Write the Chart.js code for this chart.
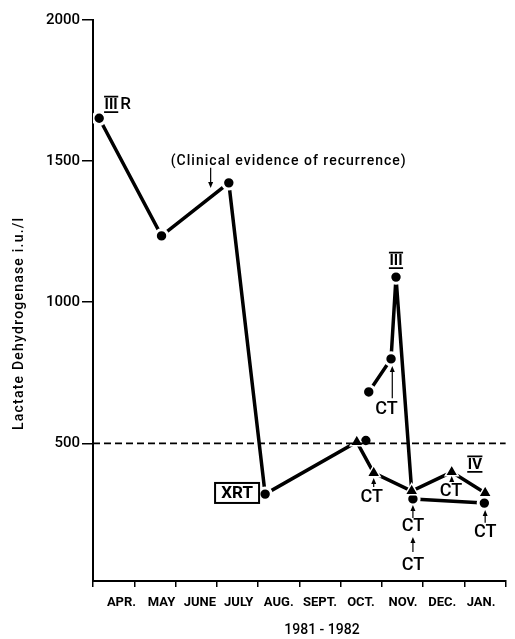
<!DOCTYPE html>
<html><head><meta charset="utf-8">
<script src="https://cdn.jsdelivr.net/npm/chart.js@4"></script>
<style>html,body{margin:0;padding:0;background:#fff}canvas{display:block}</style>
</head><body>
<canvas id="c" width="515" height="639"></canvas>
<script>
// ---- data (x = months elapsed since 1 April 1981) ----
const monthLabels = ['APR.','MAY','JUNE','JULY','AUG.','SEPT.','OCT.','NOV.','DEC.','JAN.'];
const monthLabelAt = [0.69, 1.66, 2.59, 3.53, 4.50, 5.50, 6.49, 7.51, 8.46, 9.40];
const monthTicks = [0, 1, 2, 3, 4, 5, 6, 7, 8, 9, 10];
const yTickValues = [500, 1000, 1500, 2000];
const yAxisTitle = 'Lactate Dehydrogenase i.u./l';
const xAxisTitle = '1981 - 1982';
const refLevel = 500;

const mainX = [0.15, 1.66, 3.29, 4.17, 6.39, 6.80, 7.72, 8.69, 9.50];
const mainY = [1652, 1235, 1423, 320, 505, 395, 331, 398, 324];
const mainMarkers = ['circle','circle','circle','circle','triangle','triangle','triangle','triangle','triangle'];

const octX = [6.61];
const octY = [510];

const relapseX = [6.68, 7.22, 7.34, 7.72];
const relapseY = [682, 799, 1089, 331];

const lateX = [7.75, 9.48];
const lateY = [303, 288];

// annotations, in data coordinates
const clinicalNote = {text: '(Clinical evidence of recurrence)', x: 4.73, y: 1500, arrowX: 2.85, arrowFrom: 1476, arrowTo: 1405};
const romanNotes = [ {text: 'III', x: 0.44, y: 1702, suffix: 'R', sx: 0.79}, {text: 'III', x: 7.34, y: 1149}, {text: 'IV', x: 9.25, y: 427} ];
const xrtNote = {text: 'XRT', x: 3.49, y: 324};
const ctNotes = [ // text x, text y, arrow x, arrow from, arrow to
  [7.11, 625, 7.25, 660, 774],
  [6.75, 310, 6.80, 345, 377],
  [7.75, 207, 7.75, 235, 281],
  [7.75, 72, 7.75, 115, 168],
  [8.67, 334, 8.69, 366, 384],
  [9.50, 189, 9.50, 218, 264]
];

const pts = (xs, ys) => xs.map((x, i) => ({x: x, y: ys[i]}));

function fitText(ctx, text, cx, cy, targetW) {
  ctx.letterSpacing = '0px';
  const w = ctx.measureText(text).width;
  const ls = (targetW - w) / (text.length - 1);
  ctx.letterSpacing = ls + 'px';
  ctx.textAlign = 'left';
  ctx.fillText(text, cx - targetW / 2, cy);
  ctx.letterSpacing = '0px';
}
function arrow(ctx, x, y1, y2) { // shaft from y1 to y2, head at y2
  const dir = y2 < y1 ? -1 : 1;
  ctx.beginPath(); ctx.lineWidth = 1.2; ctx.moveTo(x, y1); ctx.lineTo(x, y2 - dir * 4); ctx.stroke();
  ctx.beginPath(); ctx.moveTo(x, y2); ctx.lineTo(x - 2.5, y2 - dir * 6); ctx.lineTo(x + 2.5, y2 - dir * 6); ctx.closePath(); ctx.fill();
}

const notesPlugin = {
  id: 'notes',
  afterDraw(chart) {
    const ctx = chart.ctx, xs = chart.scales.x, ys = chart.scales.y;
    const X = v => xs.getPixelForValue(v), Y = v => ys.getPixelForValue(v);
    ctx.save();
    ctx.fillStyle = '#000'; ctx.strokeStyle = '#000'; ctx.textBaseline = 'middle';
    // month labels
    ctx.font = 'bold 13px Roboto'; ctx.textAlign = 'center';
    monthLabels.forEach((m, i) => ctx.fillText(m, X(monthLabelAt[i]), 603));
    // axis titles
    ctx.font = '500 14px Roboto';
    ctx.save(); ctx.translate(19, 324); ctx.rotate(-Math.PI / 2);
    fitText(ctx, yAxisTitle, 0, 0, 212); ctx.restore();
    ctx.font = '500 14px Roboto'; ctx.textAlign = 'center';
    ctx.fillText(xAxisTitle, 322, 630);
    // clinical note
    ctx.font = '500 14px Roboto';
    fitText(ctx, clinicalNote.text, X(clinicalNote.x), Y(clinicalNote.y), 235);
    arrow(ctx, X(clinicalNote.arrowX), Y(clinicalNote.arrowFrom), Y(clinicalNote.arrowTo));
    // roman numerals
    romanNotes.forEach(n => {
      ctx.font = 'bold 15px Roboto'; ctx.textAlign = 'center';
      const cx = X(n.x), cy = Y(n.y);
      const w = ctx.measureText(n.text).width + 1;
      ctx.fillText(n.text, cx, cy + 1);
      ctx.lineWidth = 1.6;
      ctx.beginPath(); ctx.moveTo(cx - w / 2, cy - 7.5); ctx.lineTo(cx + w / 2, cy - 7.5);
      ctx.moveTo(cx - w / 2, cy + 8); ctx.lineTo(cx + w / 2, cy + 8); ctx.stroke();
      if (n.suffix) { ctx.font = '500 17px Roboto'; ctx.fillText(n.suffix, X(n.sx), cy + 1); }
    });
    // XRT box
    ctx.font = 'bold 17px Roboto'; ctx.textAlign = 'center';
    const bx = X(xrtNote.x), by = Y(xrtNote.y);
    ctx.fillText(xrtNote.text, bx, by + 1);
    ctx.lineWidth = 2; ctx.strokeRect(bx - 22, by - 10, 44, 20);
    // CT labels
    ctNotes.forEach(c => {
      ctx.font = '500 18px Roboto'; ctx.textAlign = 'center';
      ctx.fillText('CT', X(c[0]), Y(c[1]) + 1);
      arrow(ctx, X(c[2]), Y(c[3]), Y(c[4]));
    });
    ctx.restore();
  }
};

const ptCommon = {borderColor: '#000', backgroundColor: '#000', pointBackgroundColor: '#000', pointBorderColor: '#fff', borderWidth: 3.5, tension: 0};
const circleR = 6.2, circleHalo = 3;

new Chart(document.getElementById('c'), {
  type: 'scatter',
  data: {
    datasets: [
      {data: [{x: 0, y: refLevel}, {x: 10, y: refLevel}], showLine: true, borderColor: '#000', borderWidth: 1.8, borderDash: [7, 4], pointRadius: 0},
      Object.assign({data: pts(mainX, mainY), showLine: true, pointStyle: mainMarkers,
        pointRadius: mainMarkers.map(m => m === 'circle' ? circleR : 7.5),
        pointBorderWidth: mainMarkers.map(m => m === 'circle' ? circleHalo : 1.5)}, ptCommon),
      Object.assign({data: pts(relapseX, relapseY), showLine: true, pointStyle: 'circle', pointBorderWidth: circleHalo,
        pointRadius: relapseX.map((v, i) => i === relapseX.length - 1 ? 0 : circleR)}, ptCommon),
      Object.assign({data: pts(lateX, lateY), showLine: true, pointStyle: 'circle', pointRadius: circleR, pointBorderWidth: circleHalo}, ptCommon),
      Object.assign({data: pts(octX, octY), showLine: false, pointStyle: 'circle', pointRadius: circleR, pointBorderWidth: circleHalo}, ptCommon)
    ]
  },
  options: {
    responsive: false, animation: false,
    layout: {padding: {top: 20, right: 0, left: 0, bottom: 0}},
    plugins: {legend: {display: false}, tooltip: {enabled: false}},
    scales: {
      x: {
        type: 'linear', min: 0, max: 10,
        afterFit: s => { s.height = 58; },
        afterBuildTicks: s => { s.ticks = monthTicks.map(v => ({value: v})); },
        border: {display: true, color: '#000', width: 2},
        grid: {drawOnChartArea: false, drawTicks: true, tickLength: 6, lineWidth: 1.5, color: '#000'},
        ticks: {autoSkip: false, maxRotation: 0, callback: () => ''}
      },
      y: {
        type: 'linear', min: 12, max: 2000,
        afterFit: s => { s.width = 93; },
        afterBuildTicks: s => { s.ticks = yTickValues.map(v => ({value: v})); },
        border: {display: true, color: '#000', width: 2},
        grid: {drawOnChartArea: false, drawTicks: true, tickLength: 11, lineWidth: 1.5, color: '#000'},
        ticks: {padding: 2, color: '#000', font: {family: 'Roboto', size: 15, weight: '500'}, callback: v => String(v)}
      }
    }
  },
  plugins: [notesPlugin]
});
</script>
</body></html>
